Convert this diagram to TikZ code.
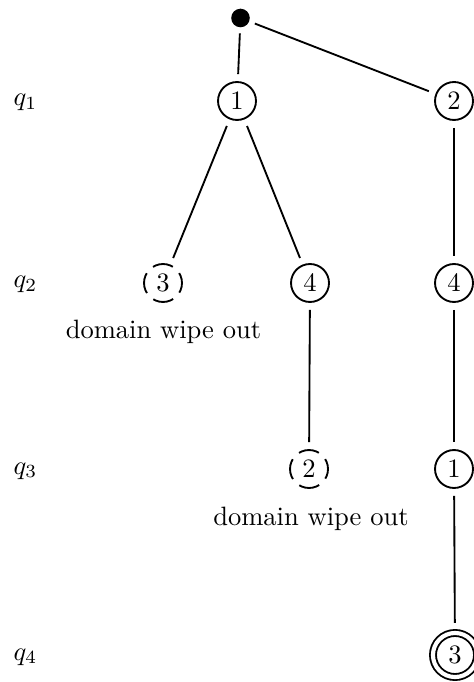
\documentclass[tikz,border=0pt]{standalone}
\begin{document}
\begin{tikzpicture}[x=0.37665pt,y=-0.37665pt,
  line width=0.7pt,
  state/.style={circle,draw,minimum size=14.3pt,inner sep=0pt,outer sep=3pt},
  failed/.style={state,dash pattern=on 7.86pt off 3.39pt,dash phase=3.93pt},
  goal/.style={circle,draw,double,double distance=1.56pt,minimum size=16.6pt,inner sep=0pt,outer sep=3.8pt},
  rootdot/.style={circle,fill,minimum size=7pt,inner sep=0pt,outer sep=2.3pt},
  level/.style={anchor=base,inner sep=0pt},
  note/.style={anchor=base,inner sep=0pt},
  edge/.style={line width=0.7pt}]
  \useasboundingbox (0,0) rectangle (473,682);

  % level labels
  \node[level] (l1) at (25.5,106) {$q_1$};
  \node[level] (l2) at (25.5,288) {$q_2$};
  \node[level] (l3) at (25.5,474) {$q_3$};
  \node[level] (l4) at (25.5,660) {$q_4$};

  % search tree
  \node[rootdot] (r) at (240.5,18) {};
  \node[state] (a1) at (237,101) {1};
  \node[state] (a2) at (454,101) {2};
  \node[failed] (b3) at (163,283) {3};
  \node[state] (b4) at (310,283) {4};
  \node[state] (c4) at (454,283) {4};
  \node[failed] (d2) at (309,469) {2};
  \node[state] (c1) at (454,469) {1};
  \node[goal] (c3) at (455,655) {3};

  \node[note] (w1) at (163.5,339) {domain wipe out};
  \node[note] (w2) at (311,525) {domain wipe out};

  \draw[edge] (r) -- (a1);
  \draw[edge] (r) -- (a2);
  \draw[edge] (a1) -- (b3);
  \draw[edge] (a1) -- (b4);
  \draw[edge] (a2) -- (c4);
  \draw[edge] (b4) -- (d2);
  \draw[edge] (c4) -- (c1);
  \draw[edge] (c1) -- (c3);
\end{tikzpicture}
\end{document}
